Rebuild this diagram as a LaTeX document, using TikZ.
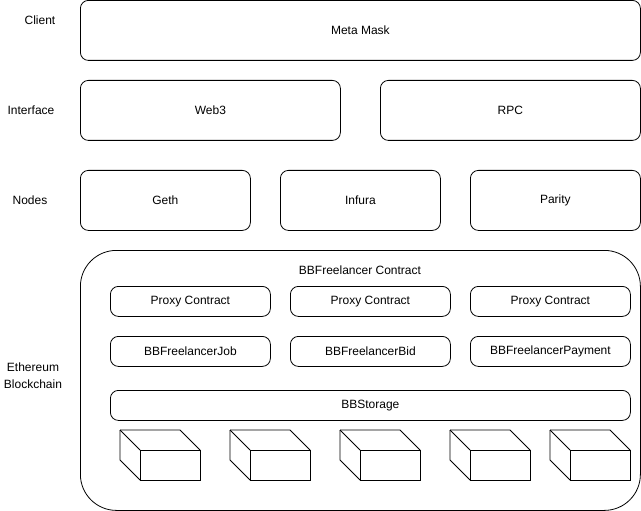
\documentclass[tikz,border=0pt]{standalone}
\usepackage{fontspec}
\setmainfont{Liberation Sans}
\begin{document}
\begin{tikzpicture}[x=1pt,y=-1pt,font=\fontsize{12}{17}\selectfont,
  layer/.style={draw,line width=0.8pt,rounded corners=8pt,inner sep=0pt,anchor=north west},
  tag/.style={inner sep=0pt,align=center}]
\useasboundingbox (0,0) rectangle (641,511);
\newcommand{\layerbox}[6]{
  \node[layer,minimum width=#4,minimum height=#5] (#1) at (#2,#3) {#6};
}
\newcommand{\blockcube}[2]{
  \def\cx{#1}
  \def\cy{#2}
  \draw[line width=0.8pt,line join=round] (\cx,\cy) -- +(60,0) -- +(80,20);
  \draw[line width=0.8pt] (\cx+20,\cy+20) rectangle (\cx+80,\cy+50);
  \draw[line width=0.8pt] (\cx,\cy) -- (\cx+20,\cy+20);
  \draw[line width=0.8pt] (\cx,\cy) -- (\cx,\cy+30) -- (\cx+20,\cy+50);
}

% row labels
\node[tag] (client) at (40,20) {Client};
\node[tag] (iface) at (31,110) {Interface};
\node[tag] (nodes) at (30,200) {Nodes};
\node[tag] (chain) at (33,376) {Ethereum\\Blockchain};

% upper layers
\layerbox{mask}{80}{0}{560}{60}{Meta Mask}
\layerbox{web3}{80}{80}{260}{60}{Web3}
\layerbox{rpc}{380}{80}{260}{60}{RPC}
\layerbox{geth}{80}{170}{170}{60}{Geth}
\layerbox{infura}{280}{170}{160}{60}{Infura}
\layerbox{parity}{470}{170}{170}{60}{Parity}

% blockchain container
\node[layer,rounded corners=36pt,minimum width=560,minimum height=260] (eth) at (80,250) {};
\node[tag] (contract) at (360,270) {BBFreelancer Contract};
\foreach \name/\x in {a/110,b/290,c/470} {
  \layerbox{proxy\name}{\x}{286}{160}{30}{Proxy Contract}
}
\layerbox{job}{110}{336}{160}{30}{BBFreelancerJob}
\layerbox{bid}{290}{336}{160}{30}{BBFreelancerBid}
\layerbox{pay}{470}{336}{160}{30}{BBFreelancerPayment}
\layerbox{storage}{110}{390}{520}{30}{BBStorage}

% blocks
\foreach \x in {120,230,340,450,550} {
  \blockcube{\x}{430}
}
\end{tikzpicture}
\end{document}
